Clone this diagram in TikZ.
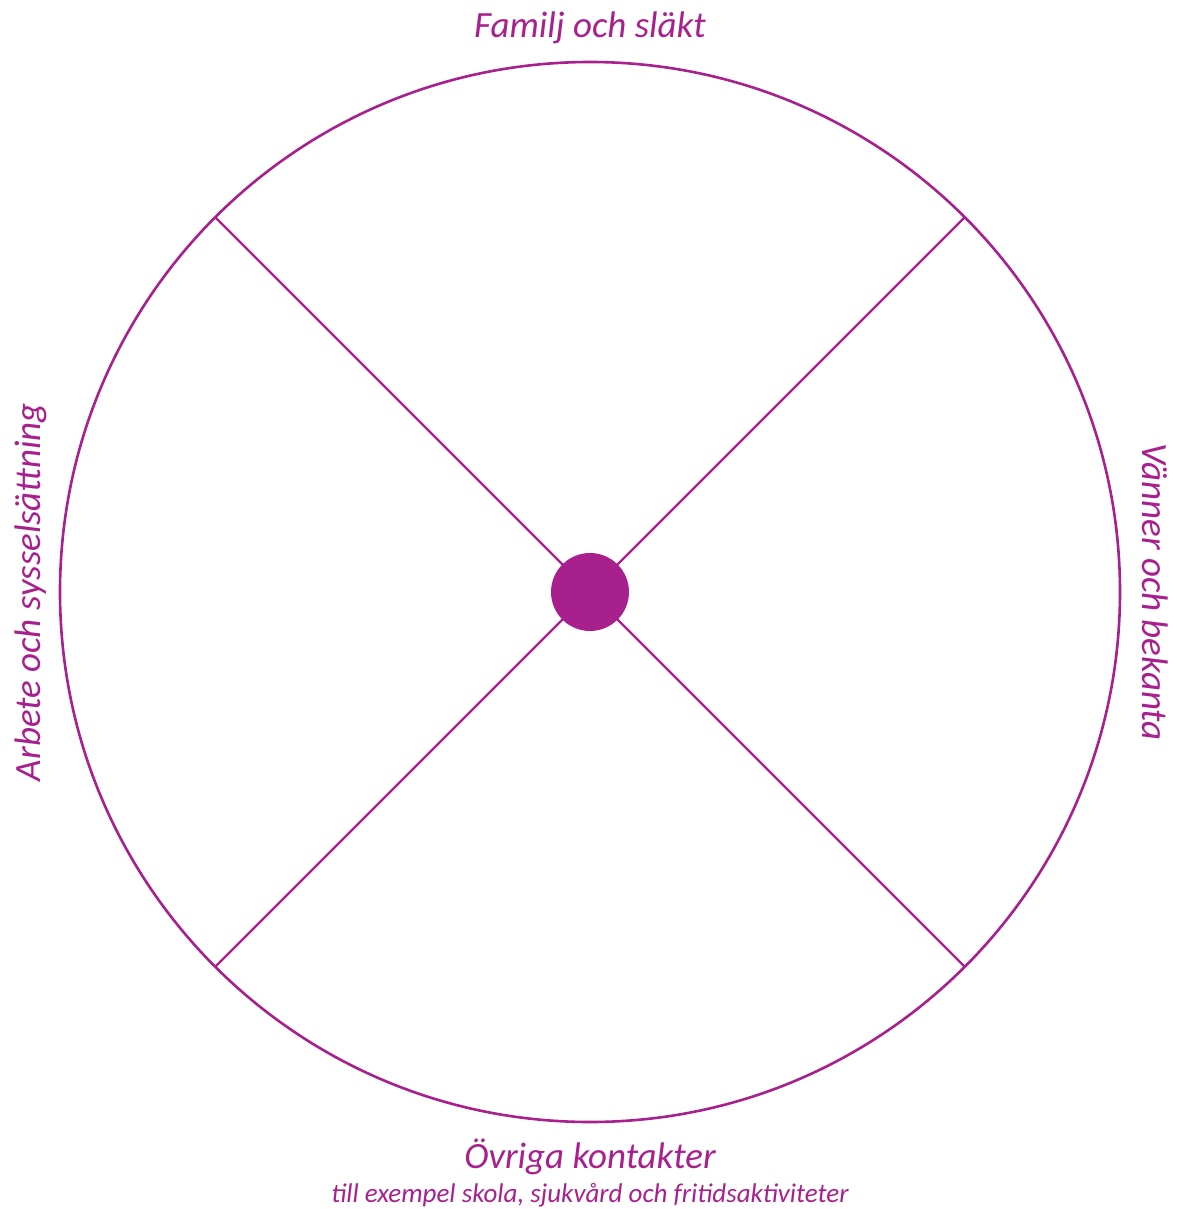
\documentclass[tikz,border=0pt]{standalone}
\usepackage{fontspec}
\setmainfont{Carlito}
\usetikzlibrary{calc}
\definecolor{wheel}{HTML}{A8208E}
\begin{document}
\begin{tikzpicture}[x=1pt,y=-1pt,
  rim/.style={draw=wheel,line width=2.6pt},
  spoke/.style={draw=wheel,line width=2.3pt},
  title/.style={text=wheel,font=\itshape\fontsize{37}{44}\selectfont,inner sep=0pt},
  subtitle/.style={text=wheel,font=\itshape\fontsize{27}{32}\selectfont,inner sep=0pt}]
\useasboundingbox (0,0) rectangle (1176,1209);
\coordinate (c) at (590,592);
\draw[rim] (c) circle (530);
\coordinate (nw) at ($(c)+(-374.8,-374.8)$);
\coordinate (ne) at ($(c)+(374.8,-374.8)$);
\coordinate (sw) at ($(c)+(-374.8,374.8)$);
\coordinate (se) at ($(c)+(374.8,374.8)$);
\draw[spoke] (nw) -- (se);
\draw[spoke] (ne) -- (sw);
\node[circle,fill=wheel,minimum size=78pt,inner sep=0pt] (hub) at (c) {};
\node[title] (top) at (590,28) {Familj och släkt};
\node[title] (bottom) at (590,1157) {Övriga kontakter};
\node[subtitle] (sub) at (590,1195) {till exempel skola, sjukvård och fritidsaktiviteter};
\node[title,rotate=90] (left) at (31,592) {Arbete och sysselsättning};
\node[title,rotate=-90] (right) at (1155,592) {Vänner och bekanta};
\end{tikzpicture}
\end{document}
